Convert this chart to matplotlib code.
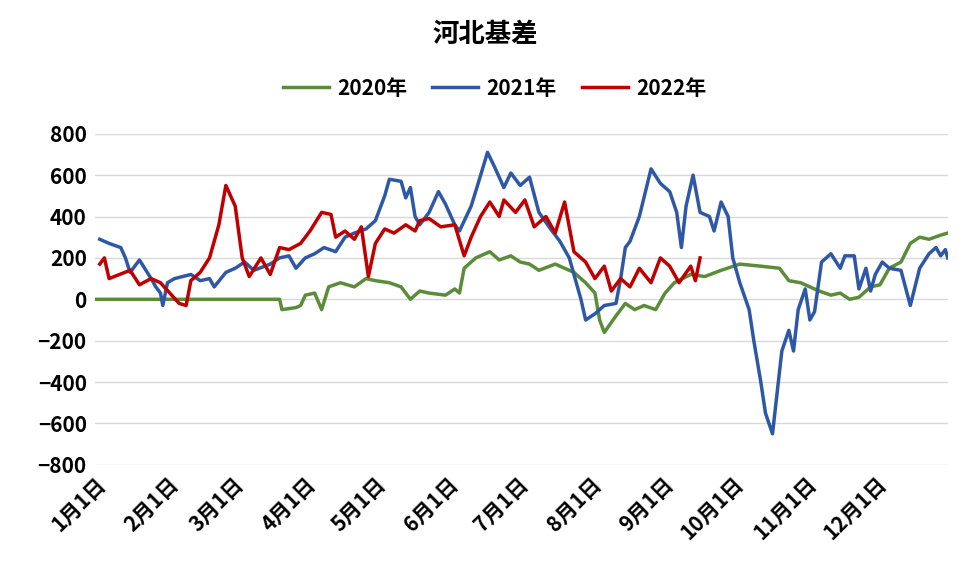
import matplotlib
matplotlib.use('Agg')
import matplotlib.pyplot as plt

plt.rcParams['font.family'] = ['Noto Sans CJK SC', 'DejaVu Sans']

# day of year (0 = Jan 1) and basis values
days_2020 = [0, 79, 80, 86, 88, 90, 94, 97, 100, 105, 111, 116, 120, 126, 131, 135, 139, 143, 150, 154,
             156, 158, 163, 169, 173, 178, 182, 186, 190, 197, 201, 205, 210, 214, 216, 218, 223, 227,
             231, 235, 240, 244, 248, 255, 261, 268, 276, 285, 293, 297, 302, 306, 310, 315, 319, 323,
             327, 332, 336, 340, 345, 349, 353, 357, 362, 365]
vals_2020 = [0, 0, -50, -40, -30, 20, 30, -50, 60, 80, 60, 100, 90, 80, 60, 0, 40, 30, 20, 50,
             30, 150, 200, 230, 190, 210, 180, 170, 140, 170, 150, 130, 80, 30, -100, -160, -80, -20,
             -50, -30, -50, 30, 80, 120, 110, 140, 170, 160, 150, 90, 80, 60, 40, 20, 30, 0,
             10, 60, 70, 150, 180, 270, 300, 290, 310, 320]

days_2021 = [2, 6, 11, 13, 15, 19, 24, 26, 28, 29, 31, 34, 41, 45, 49, 51, 56, 60, 64, 68, 75, 79, 83,
             86, 90, 94, 98, 103, 107, 111, 116, 120, 124, 126, 131, 133, 135, 137, 139, 143, 147, 150,
             154, 156, 161, 164, 168, 171, 175, 178, 182, 186, 190, 195, 199, 203, 208, 210, 214, 218,
             223, 225, 227, 229, 233, 238, 242, 246, 249, 251, 253, 256, 259, 263, 265, 268, 271, 273,
             276, 280, 282, 285, 287, 290, 292, 294, 297, 299, 301, 304, 306, 308, 311, 315, 319, 321,
             325, 327, 330, 332, 334, 337, 340, 345, 349, 353, 357, 360, 362, 364, 365]
vals_2021 = [290, 270, 250, 200, 130, 190, 100, 60, 30, -30, 80, 100, 120, 90, 100, 60, 130, 150, 180,
             140, 170, 200, 210, 150, 200, 220, 250, 230, 300, 320, 340, 380, 500, 580, 570, 490, 540,
             400, 360, 420, 520, 460, 360, 330, 450, 560, 710, 640, 540, 610, 550, 590, 420, 340, 280,
             200, 0, -100, -70, -30, -20, 100, 250, 280, 400, 630, 560, 520, 420, 250, 450, 600, 420,
             400, 330, 470, 400, 200, 80, -50, -200, -400, -550, -650, -450, -250, -150, -250, -50, 50,
             -100, -60, 180, 220, 150, 210, 210, 50, 150, 40, 120, 180, 150, 140, -30, 150, 220, 250,
             210, 240, 200]

days_2022 = [2, 4, 6, 15, 19, 24, 28, 32, 36, 39, 41, 45, 49, 53, 56, 60, 63, 66, 71, 75, 79, 83, 88,
             92, 97, 101, 103, 107, 111, 114, 117, 120, 124, 128, 133, 137, 139, 143, 148, 154, 158,
             161, 165, 169, 173, 175, 180, 184, 188, 193, 197, 201, 205, 210, 214, 218, 221, 225, 229,
             233, 238, 242, 246, 250, 255, 257, 259]
vals_2022 = [170, 200, 100, 140, 70, 100, 80, 30, -20, -30, 90, 130, 200, 360, 550, 450, 200, 110, 200,
             120, 250, 240, 270, 330, 420, 410, 300, 330, 290, 350, 110, 270, 340, 320, 360, 330, 380,
             390, 350, 360, 210, 300, 400, 470, 400, 480, 420, 480, 350, 400, 320, 470, 230, 180, 100,
             160, 40, 100, 60, 150, 80, 200, 160, 80, 160, 90, 200]

month_starts = [0, 31, 59, 90, 120, 151, 181, 212, 243, 273, 304, 334]
month_labels = ['%d月1日' % m for m in range(1, 13)]

fig = plt.figure(figsize=(9.7, 5.69), dpi=100)
ax = fig.add_axes([0.098, 0.183, 0.879, 0.582])

ax.plot(days_2020, vals_2020, color='#5b8c3a', lw=2.5, label='2020年')
ax.plot(days_2021, vals_2021, color='#2e58a6', lw=2.5, label='2021年')
ax.plot(days_2022, vals_2022, color='#c00000', lw=2.5, label='2022年')

ax.set_xlim(0, 365)
ax.set_ylim(-800, 800)
ax.set_yticks(range(-800, 801, 200))
ax.set_xticks(month_starts)
ax.set_xticklabels(month_labels, rotation=45, ha='right', rotation_mode='anchor')
ax.tick_params(length=0, labelsize=15, pad=6)
for lab in ax.get_xticklabels() + ax.get_yticklabels():
    lab.set_fontweight('bold')
ax.grid(axis='y', color='#d9d9d9', lw=1)
ax.set_axisbelow(True)
for s in ax.spines.values():
    s.set_visible(False)

fig.text(0.5, 0.94, '河北基差', ha='center', va='center', fontsize=19, fontweight='bold')
fig.legend(loc='center', bbox_to_anchor=(0.51, 0.845), ncol=3, frameon=False,
           prop={'weight': 'bold', 'size': 15}, handlelength=2.2, columnspacing=1.2, handletextpad=0.4)

fig.savefig('out.png')
